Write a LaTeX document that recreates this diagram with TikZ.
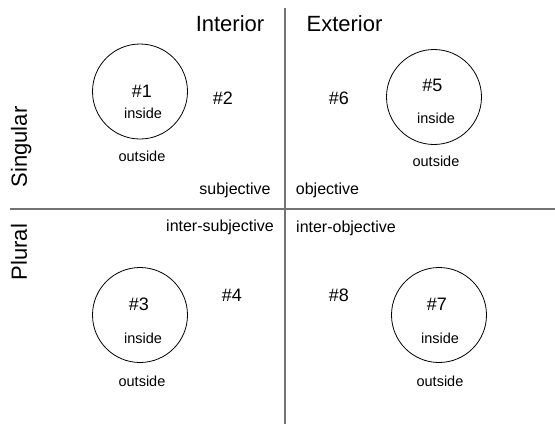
\documentclass[tikz,border=0pt]{standalone}
\usepackage{fontspec}
\setmainfont{Liberation Sans}
\begin{document}
\begin{tikzpicture}[x=1pt,y=-1pt,
  big/.style={font=\fontsize{22}{26}\selectfont, anchor=base, inner sep=0pt},
  num/.style={font=\fontsize{18}{22}\selectfont, anchor=base, inner sep=0pt},
  lab/.style={font=\fontsize{16}{19}\selectfont, anchor=base, inner sep=0pt},
  small/.style={font=\fontsize{14.5}{17}\selectfont, anchor=base, inner sep=0pt},
  ring/.style={circle, draw=black, line width=0.8pt, minimum size=95pt, inner sep=0pt},
  axis/.style={draw=black!55, line width=1.8pt}]
\useasboundingbox (0,0) rectangle (555,424);
% axes
\coordinate (vtop) at (285,8);
\coordinate (vbot) at (285,424);
\coordinate (hleft) at (10,209);
\coordinate (hright) at (555,209);
\draw[axis] (vtop) -- (vbot);
\draw[axis] (hleft) -- (hright);
% headers
\node[big] (interior) at (230,31.5) {Interior};
\node[big] (exterior) at (344.5,31.5) {Exterior};
\node[big, rotate=90] (singular) at (27,147) {Singular};
\node[big, rotate=90] (plural) at (27,252) {Plural};
% circles
\node[ring] (c1) at (140,91.5) {};
\node[ring] (c5) at (434,97) {};
\node[ring] (c3) at (140,315) {};
\node[ring] (c7) at (439,315) {};
% quadrant 1
\node[num] (n1) at (142,97) {\#1};
\node[small] (in1) at (143,118.7) {inside};
\node[small] (out1) at (142,161) {outside};
\node[num] (n2) at (223,104) {\#2};
\node[lab] (subj) at (235,194.3) {subjective};
% quadrant 2
\node[num] (n6) at (339,104) {\#6};
\node[num] (n5) at (432.5,91.5) {\#5};
\node[small] (in5) at (436,123) {inside};
\node[small] (out5) at (436,166.5) {outside};
\node[lab] (obj) at (327.5,194.3) {objective};
% quadrant 3
\node[lab] (isubj) at (220,231.8) {inter-subjective};
\node[num] (n4) at (232,301.7) {\#4};
\node[num] (n3) at (139,310.5) {\#3};
\node[small] (in3) at (143,343) {inside};
\node[small] (out3) at (142,386) {outside};
% quadrant 4
\node[lab] (iobj) at (346,232) {inter-objective};
\node[num] (n8) at (339,301.7) {\#8};
\node[num] (n7) at (437,310.5) {\#7};
\node[small] (in7) at (440,343) {inside};
\node[small] (out7) at (440,386) {outside};
\end{tikzpicture}
\end{document}
